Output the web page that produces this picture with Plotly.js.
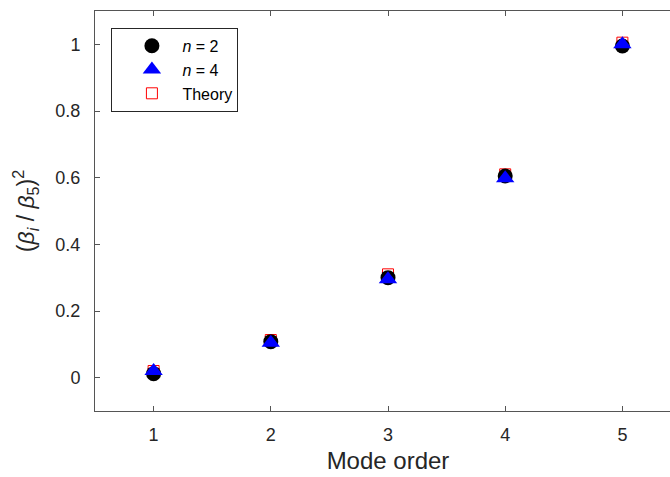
<!DOCTYPE html>
<html>
<head>
<meta charset="utf-8">
<script src="https://cdn.plot.ly/plotly-3.0.1.min.js"></script>
<style>
html, body { margin: 0; padding: 0; overflow: hidden; background: #fff; width: 670px; height: 477px; }
#chart { width: 700px; height: 477px; }
</style>
</head>
<body>
<div id="chart"></div>
<script>
const modes = [1, 2, 3, 4, 5];
const n2Values = [0.012, 0.108, 0.300, 0.605, 0.995];
const n4Values = [0.020, 0.105, 0.295, 0.598, 1.000];
const theoryValues = [0.020, 0.113, 0.310, 0.610, 1.005];
const yTicks = [0, 0.2, 0.4, 0.6, 0.8, 1];
const xTicks = [1, 2, 3, 4, 5];

const FONT = 'Liberation Sans, Arial, Helvetica, sans-serif';
const TXT = '#262626';

const traces = [
  {
    x: modes, y: theoryValues, type: 'scatter', mode: 'markers', name: 'Theory',
    legendrank: 3,
    marker: { symbol: 'square-open', size: 11, color: '#ff0000', line: { width: 1, color: '#ff0000' } }
  },
  {
    x: modes, y: n2Values, type: 'scatter', mode: 'markers', name: '<i>n</i> = 2',
    legendrank: 1,
    marker: { symbol: 'circle', size: 15, color: '#000000' }
  },
  {
    x: modes, y: n4Values, type: 'scatter', mode: 'markers', name: '<i>n</i> = 4',
    legendrank: 2,
    marker: { symbol: 'triangle-up', size: 16, color: '#0000ff' }
  }
];

const layout = {
  width: 700, height: 477,
  margin: { l: 95, r: 19, t: 11, b: 66 },
  paper_bgcolor: '#ffffff', plot_bgcolor: '#ffffff',
  font: { family: FONT, color: TXT, size: 18 },
  showlegend: true,
  legend: {
    x: 0.028, y: 0.958, xanchor: 'left', yanchor: 'top',
    bgcolor: '#ffffff', bordercolor: '#262626', borderwidth: 1,
    font: { family: FONT, size: 16, color: '#000000' },
    indentation: 9, itemwidth: 51
  },
  xaxis: {
    range: [0.5, 5.5], tickvals: xTicks, ticktext: xTicks.map(String),
    showgrid: false, zeroline: false, showline: true, mirror: 'ticks',
    linecolor: '#555555', linewidth: 1, ticks: 'inside', ticklen: 5, tickcolor: '#555555',
    tickfont: { family: FONT, size: 18, color: TXT }, ticklabelstandoff: 7,
    title: { text: 'Mode order', font: { family: FONT, size: 24, color: TXT }, standoff: 8 }
  },
  yaxis: {
    range: [-0.1, 1.1], tickvals: yTicks, ticktext: ['0', '0.2', '0.4', '0.6', '0.8', '1'],
    showgrid: false, zeroline: false, showline: true, mirror: 'ticks',
    linecolor: '#555555', linewidth: 1, ticks: 'inside', ticklen: 5, tickcolor: '#555555',
    tickfont: { family: FONT, size: 18, color: TXT }, ticklabelstandoff: 10,
    title: { text: '(<i>β<sub>i</sub></i> / <i>β</i><sub>5</sub>)<sup>2</sup>', font: { family: FONT, size: 23, color: TXT }, standoff: 14 }
  }
};

Plotly.newPlot('chart', traces, layout, { displayModeBar: false, staticPlot: true });
</script>
</body>
</html>
